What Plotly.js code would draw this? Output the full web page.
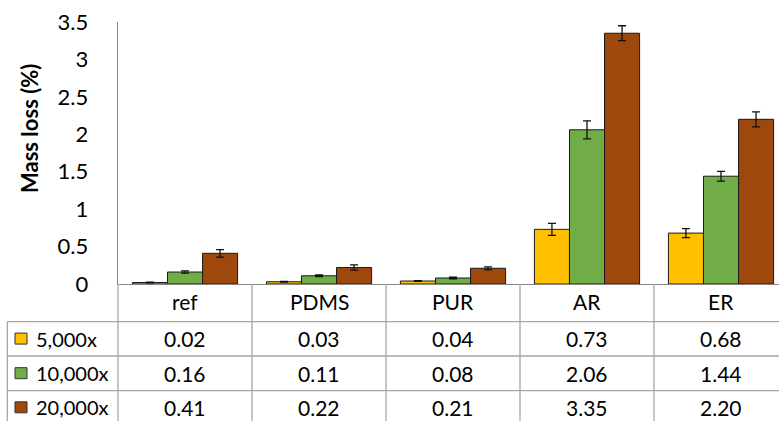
<!DOCTYPE html>
<html>
<head>
<meta charset="utf-8">
<script src="https://cdn.plot.ly/plotly-3.0.1.min.js"></script>
<style>
html,body{margin:0;padding:0;background:#fff;overflow:hidden;}
#chart{width:779px;height:421px;}
</style>
</head>
<body>
<div id="chart"></div>
<script>
// ---- data ----
var categories = ["ref", "PDMS", "PUR", "AR", "ER"];
var seriesNames = ["5,000x", "10,000x", "20,000x"];
var values5k  = [0.02, 0.03, 0.04, 0.73, 0.68];
var values10k = [0.16, 0.11, 0.08, 2.06, 1.44];
var values20k = [0.41, 0.22, 0.21, 3.35, 2.20];
var err5k  = [0.005, 0.005, 0.005, 0.08, 0.06];
var err10k = [0.015, 0.01, 0.01, 0.12, 0.065];
var err20k = [0.05, 0.035, 0.02, 0.10, 0.10];
var colors = ["#FFC000", "#70AD47", "#9E480E"];
var yTickVals = [0, 0.5, 1, 1.5, 2, 2.5, 3, 3.5];
var yTickText = ["0", "0.5", "1", "1.5", "2", "2.5", "3", "3.5"];

var allValues = [values5k, values10k, values20k];
var allErrors = [err5k, err10k, err20k];

// ---- layout geometry ----
var W = 779, H = 421;
var mL = 118, mT = 22, mB = 137, mR = 0;
var plotH = H - mT - mB;           // 262
var plotW = W - mL - mR;           // 661
var catPx = 134;
var xRange = [-0.5, -0.5 + plotW / catPx];
function py(Y) { return (H - mB - Y) / plotH; }      // pixel y -> paper y
function pxp(X) { return (X - mL) / plotW; }          // pixel x -> paper x
function catPaper(v) { return (v - xRange[0]) / (xRange[1] - xRange[0]); }

var FONT = "Lato, 'Liberation Sans', sans-serif";
var FS = 21;
var gridColor = "#a6a6a6";

var traces = [];
for (var s = 0; s < 3; s++) {
  traces.push({
    type: "bar",
    name: seriesNames[s],
    x: categories,
    y: allValues[s],
    marker: { color: colors[s], line: { color: "#1a1a1a", width: 1 } },
    error_y: { type: "data", array: allErrors[s], visible: true, color: "#111", thickness: 1.3, width: 4 },
    hoverinfo: "none"
  });
}

// table rows geometry (pixels)
var headerTop = 284, row1Top = 321.7, row2Top = 356, row3Top = 390.7, tableBottom = 425;
var rowTops = [row1Top, row2Top, row3Top];
var rowCenters = [338.6, 373.2, 407.3];
var tableLeft = 7.3;

var shapes = [];
var annotations = [];

// horizontal lines of table
rowTops.forEach(function (Y) {
  shapes.push({ type: "line", xref: "paper", yref: "paper", x0: pxp(tableLeft), x1: 1.05, y0: py(Y), y1: py(Y),
    line: { color: gridColor, width: 1.3 } });
});
// left border of legend column
shapes.push({ type: "line", xref: "paper", yref: "paper", x0: pxp(tableLeft), x1: pxp(tableLeft), y0: py(row1Top), y1: py(tableBottom),
  line: { color: gridColor, width: 1.3 } });
// vertical category boundaries
for (var i = 1; i <= categories.length; i++) {
  var xv = catPaper(i - 0.5);
  if (xv <= 1) {
    shapes.push({ type: "line", xref: "paper", yref: "paper", x0: xv, x1: xv, y0: py(headerTop), y1: py(tableBottom),
      line: { color: gridColor, width: 1.3 } });
  }
}
// y-axis line extension through table
shapes.push({ type: "line", xref: "paper", yref: "paper", x0: 0, x1: 0, y0: py(headerTop), y1: py(tableBottom),
  line: { color: gridColor, width: 1.3 } });

// category header labels
categories.forEach(function (c, k) {
  annotations.push({ xref: "x", yref: "paper", x: c, y: py(301.7), text: c, showarrow: false,
    xanchor: "center", yanchor: "middle", font: { family: FONT, size: FS, color: "#000" } });
});
// value cells + legend keys
for (var r = 0; r < 3; r++) {
  var yc = rowCenters[r];
  categories.forEach(function (c, k) {
    annotations.push({ xref: "x", yref: "paper", x: c, y: py(yc), text: allValues[r][k].toFixed(2), showarrow: false,
      xanchor: "center", yanchor: "middle", font: { family: FONT, size: FS, color: "#000" } });
  });
  shapes.push({ type: "rect", xref: "paper", yref: "paper", x0: pxp(15), x1: pxp(27), y0: py(yc + 5.5), y1: py(yc - 5.5),
    fillcolor: colors[r], line: { color: "#333", width: 1 } });
  annotations.push({ xref: "paper", yref: "paper", x: pxp(34.5), y: py(yc), text: seriesNames[r], showarrow: false,
    xanchor: "left", yanchor: "middle", font: { family: FONT, size: 20, color: "#000" } });
}

// y-axis title
annotations.push({ xref: "paper", yref: "paper", x: pxp(29), y: py(128), text: "<b>Mass loss (%)</b>", textangle: -90,
  showarrow: false, xanchor: "center", yanchor: "middle", font: { family: FONT, size: 22, color: "#000" } });

var layout = {
  width: W, height: H,
  margin: { l: mL, r: mR, t: mT, b: mB, pad: 0 },
  paper_bgcolor: "#fff", plot_bgcolor: "#fff",
  barmode: "group", bargap: 0.215, bargroupgap: 0,
  showlegend: false,
  xaxis: { range: xRange, showticklabels: false, ticks: "", showgrid: false, zeroline: false,
    showline: true, linecolor: "#868686", linewidth: 1.3, fixedrange: true },
  yaxis: { range: [0, 3.5], tickvals: yTickVals, ticktext: yTickText, ticks: "", showgrid: false, zeroline: false,
    showline: true, linecolor: "#868686", linewidth: 1.3, ticklabelstandoff: 24,
    tickfont: { family: FONT, size: 22, color: "#000" }, fixedrange: true },
  shapes: shapes,
  annotations: annotations
};

Plotly.newPlot("chart", traces, layout, { displayModeBar: false, staticPlot: true });
</script>
</body>
</html>
